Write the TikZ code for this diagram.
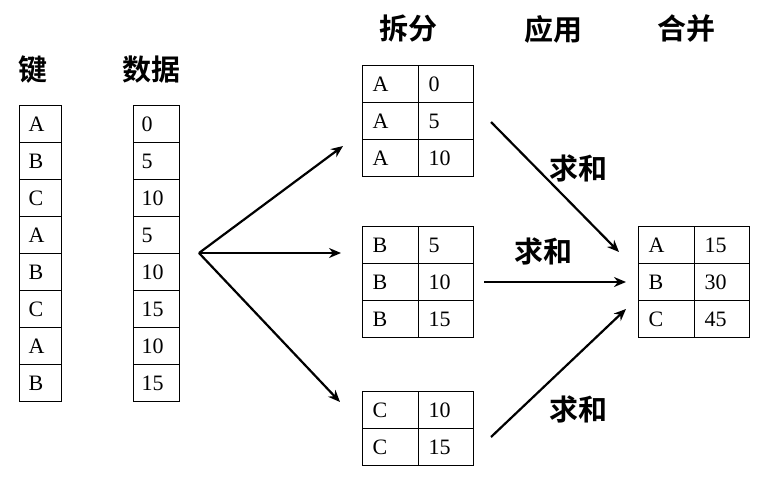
\documentclass[tikz,border=0pt]{standalone}
\usepackage{fontspec}
\setmainfont{Liberation Serif}
\newfontfamily\cjkbold[BoldFont={Noto Sans CJK SC Bold}]{Noto Sans CJK SC}
\usetikzlibrary{matrix,arrows.meta}

\tikzset{
    cell/.style={draw, line width=1pt, minimum height=37pt, inner sep=0pt,
        font=\fontsize{22}{22}\selectfont, align=left},
    table/.style={matrix of nodes, column sep=-1pt, row sep=-1pt,
        nodes={cell}, anchor=north west, inner sep=0pt},
    head/.style={font=\cjkbold\bfseries\fontsize{29}{29}\selectfont, inner sep=0pt},
    flow/.style={-{Stealth[length=12pt, width=10pt]}, line width=2.2pt},
}

\begin{document}
\begin{tikzpicture}[x=1pt, y=-1pt]
    \useasboundingbox (0,0) rectangle (765,496);

    % headers
    \node[head] (hkey)   at (33,70)  {键};
    \node[head] (hval)   at (151,70) {数据};
    \node[head] (hsplit) at (408,29) {拆分};
    \node[head] (happly) at (553,29) {应用};
    \node[head] (hcomb)  at (686,29) {合并};

    % original columns
    \matrix[table, column 1/.style={nodes={text width=24pt, minimum width=42pt}}]
        (keys) at (19,105) {
        A \\ B \\ C \\ A \\ B \\ C \\ A \\ B \\
    };
    \matrix[table, column 1/.style={nodes={text width=30pt, minimum width=46pt}}]
        (vals) at (133,105) {
        0 \\ 5 \\ 10 \\ 5 \\ 10 \\ 15 \\ 10 \\ 15 \\
    };

    % split groups
    \matrix[table,
        column 1/.style={nodes={text width=36pt, minimum width=56pt}},
        column 2/.style={nodes={text width=35pt, minimum width=55pt}}]
        (grpA) at (362,65) {
        A & 0 \\ A & 5 \\ A & 10 \\
    };
    \matrix[table,
        column 1/.style={nodes={text width=36pt, minimum width=56pt}},
        column 2/.style={nodes={text width=35pt, minimum width=55pt}}]
        (grpB) at (362,226) {
        B & 5 \\ B & 10 \\ B & 15 \\
    };
    \matrix[table,
        column 1/.style={nodes={text width=36pt, minimum width=56pt}},
        column 2/.style={nodes={text width=35pt, minimum width=55pt}}]
        (grpC) at (362,391) {
        C & 10 \\ C & 15 \\
    };

    % combined result
    \matrix[table,
        column 1/.style={nodes={text width=36pt, minimum width=56pt}},
        column 2/.style={nodes={text width=35pt, minimum width=55pt}}]
        (res) at (638,226) {
        A & 15 \\ B & 30 \\ C & 45 \\
    };

    % split arrows
    \coordinate (fork) at (199,253);
    \coordinate (toA) at (343,146);
    \coordinate (toB) at (341,253);
    \coordinate (toC) at (340,402);
    \draw[flow] (fork) -- (toA);
    \draw[flow] (fork) -- (toB);
    \draw[flow] (fork) -- (toC);

    % apply arrows
    \coordinate (fromA) at (491,122);
    \coordinate (fromB) at (484,282);
    \coordinate (fromC) at (491,437);
    \coordinate (inA) at (619,252);
    \coordinate (inB) at (626,282);
    \coordinate (inC) at (626,309);
    \draw[flow] (fromA) -- (inA);
    \draw[flow] (fromB) -- (inB);
    \draw[flow] (fromC) -- (inC);

    \node[head] (sumA) at (578,168) {求和};
    \node[head] (sumB) at (543,251) {求和};
    \node[head] (sumC) at (578,409) {求和};
\end{tikzpicture}
\end{document}
